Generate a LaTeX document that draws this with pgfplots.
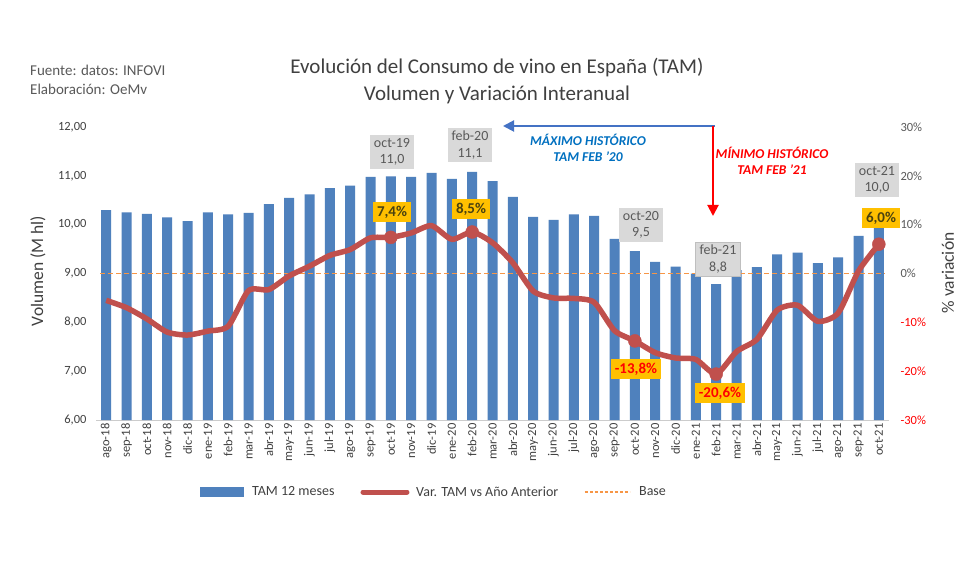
\documentclass[border=0pt]{standalone}
\usepackage{pgfplots}
\usepackage{pgfplotstable}
\pgfplotsset{compat=1.18}
\usepackage{fontspec}
\setmainfont{Carlito}
\usetikzlibrary{arrows.meta}
\definecolor{barblue}{HTML}{4F81BD}
\definecolor{linered}{HTML}{C0504D}
\definecolor{baseorange}{HTML}{F79646}
\definecolor{txtgray}{HTML}{595959}
\definecolor{titlegray}{HTML}{404040}
\definecolor{boxgray}{HTML}{D9D9D9}
\definecolor{boxyellow}{HTML}{FFC000}
\definecolor{olivetxt}{HTML}{4A4210}
\definecolor{bluetxt}{HTML}{0070C0}
\definecolor{arrowblue}{HTML}{4472C4}
\definecolor{pure red}{HTML}{FF0000}

\pgfplotstableread{
x vol var
0 10.30 -5.5
1 10.25 -7.0
2 10.22 -9.3
3 10.15 -12.0
4 10.07 -12.6
5 10.25 -11.8
6 10.21 -10.8
7 10.24 -3.5
8 10.42 -3.3
9 10.55 -0.5
10 10.62 1.5
11 10.75 3.7
12 10.80 4.9
13 10.98 7.3
14 10.99 7.4
15 10.98 8.3
16 11.06 9.8
17 10.94 7.0
18 11.08 8.5
19 10.89 6.3
20 10.57 2.2
21 10.16 -3.6
22 10.10 -5.0
23 10.21 -5.1
24 10.18 -5.9
25 9.71 -11.7
26 9.46 -13.8
27 9.24 -16.2
28 9.14 -17.3
29 9.00 -17.6
30 8.78 -20.6
31 9.07 -16.0
32 9.13 -13.5
33 9.39 -7.5
34 9.43 -6.5
35 9.21 -9.8
36 9.33 -8.1
37 9.77 0.5
38 9.98 6.0
}\datatable

\pgfplotstableread{
x var
14 7.4
18 8.5
26 -13.8
30 -20.6
38 6.0
}\marktable

\begin{document}
\begin{tikzpicture}
\path[use as bounding box, fill=white] (0pt,0pt) rectangle (980pt,560pt);

\begin{axis}[
  at={(96pt,140pt)}, anchor=south west,
  scale only axis, width=793pt, height=293pt,
  xmin=-0.5, xmax=38.5, ymin=6, ymax=12,
  axis x line*=bottom, axis y line*=left,
  x axis line style={draw=black!20, line width=0.8pt},
  y axis line style={draw=none},
  major tick length=0pt,
  xtick={0,...,38},
  xticklabels={ago-18,sep-18,oct-18,nov-18,dic-18,ene-19,feb-19,mar-19,abr-19,may-19,jun-19,jul-19,ago-19,sep-19,oct-19,nov-19,dic-19,ene-20,feb-20,mar-20,abr-20,may-20,jun-20,jul-20,ago-20,sep-20,oct-20,nov-20,dic-20,ene-21,feb-21,mar-21,abr-21,may-21,jun-21,jul-21,ago-21,sep-21,oct-21},
  xticklabel style={rotate=90, anchor=east, font=\fontsize{12.5}{14}\selectfont, text=titlegray},
  ytick={6,7,8,9,10,11,12},
  yticklabels={{6,00},{7,00},{8,00},{9,00},{10,00},{11,00},{12,00}},
  yticklabel style={font=\fontsize{12.5}{14}\selectfont, text=titlegray, xshift=-6pt},
]
\addplot[ybar, bar width=10pt, fill=barblue, draw=none, forget plot] table[x=x, y=vol] {\datatable};
\end{axis}

\begin{axis}[
  at={(96pt,140pt)}, anchor=south west,
  scale only axis, width=793pt, height=293pt,
  xmin=-0.5, xmax=38.5, ymin=-30, ymax=30,
  hide x axis,
  axis y line*=right,
  y axis line style={draw=none},
  major tick length=0pt,
  ytick={-30,-20,-10,0,10,20,30},
  yticklabels={\textcolor{pure red}{-30\%},\textcolor{pure red}{-20\%},\textcolor{pure red}{-10\%},0\%,10\%,20\%,30\%},
  yticklabel style={font=\fontsize{12.5}{14}\selectfont, text=txtgray, anchor=west, xshift=8pt},
  legend style={at={(0.426,-0.246)}, anchor=center, legend columns=3, draw=none, fill=none,
    font=\fontsize{14}{16}\selectfont, text=titlegray,
    /tikz/every even column/.append style={column sep=24pt}},
]
\addlegendimage{legend image code/.code={\fill[barblue] (0pt,-4.5pt) rectangle (43pt,4.5pt); \path (50pt,0pt);}}
\addlegendentry{TAM 12 meses}
\addlegendimage{legend image code/.code={\draw[linered, line width=5pt, line cap=round] (2pt,0pt) -- (46pt,0pt); \path (0pt,0pt) (53pt,0pt);}}
\addlegendentry{Var. TAM vs Año Anterior}
\addlegendimage{legend image code/.code={\draw[baseorange, line width=1.2pt, dash pattern=on 3pt off 2pt] (0pt,0pt) -- (45pt,0pt); \path (52pt,0pt);}}
\addlegendentry{Base}
\addplot[baseorange, line width=1.6pt, dash pattern=on 5pt off 3pt, forget plot] coordinates {(-0.3,0) (38.3,0)};
\addplot[linered, line width=5.5pt, smooth, tension=0.4, line join=round, forget plot] table[x=x, y=var] {\datatable};
\addplot[only marks, mark=*, mark size=6.5pt, color=linered, forget plot] table[x=x, y=var] {\marktable};
\end{axis}

% titles
\node[font=\fontsize{21}{23}\selectfont, text=titlegray] at (497pt,492pt) {Evolución del Consumo de vino en España (TAM)};
\node[font=\fontsize{21}{23}\selectfont, text=titlegray] at (497pt,465pt) {Volumen y Variación Interanual};
\node[font=\fontsize{15}{17}\selectfont, text=txtgray, anchor=west, inner sep=0pt] at (30pt,490pt) {Fuente: datos: INFOVI};
\node[font=\fontsize{15}{17}\selectfont, text=txtgray, anchor=west, inner sep=0pt] at (30pt,471pt) {Elaboración: OeMv};

% axis labels
\node[rotate=90, font=\fontsize{17.5}{19}\selectfont, text=titlegray] at (38pt,289pt) {Volumen (M hl)};
\node[rotate=90, font=\fontsize{17.5}{19}\selectfont, text=titlegray] at (948pt,287pt) {\% variación};

% gray value boxes
\tikzset{gbox/.style={fill=boxgray, align=center, font=\fontsize{14}{16.5}\selectfont, text=txtgray, inner xsep=4pt, inner ysep=3pt},
         ybox/.style={fill=boxyellow, font=\bfseries\fontsize{15}{17}\selectfont, inner xsep=4pt, inner ysep=4pt}}
\node[gbox] at (392pt,408pt) {oct-19\\11,0};
\node[gbox] at (470pt,415pt) {feb-20\\11,1};
\node[gbox] at (641pt,335pt) {oct-20\\9,5};
\node[gbox, draw=black!25, line width=0.6pt] at (718pt,301pt) {feb-21\\8,8};
\node[gbox] at (877pt,380pt) {oct-21\\10,0};

% yellow boxes
\node[ybox, text=olivetxt] at (392pt,348pt) {7,4\%};
\node[ybox, text=olivetxt] at (471pt,351pt) {8,5\%};
\node[ybox, text=pure red] at (636pt,191pt) {-13,8\%};
\node[ybox, text=pure red] at (720pt,167pt) {-20,6\%};
\node[ybox, text=olivetxt] at (881pt,342pt) {6,0\%};

% arrows
\draw[arrowblue, line width=2pt, -{Triangle[length=11pt,width=11pt]}] (715pt,434pt) -- (503pt,434pt);
\draw[pure red, line width=2pt, -{Triangle[length=11pt,width=11pt]}] (713pt,434pt) -- (713pt,344pt);
\node[font=\bfseries\itshape\fontsize{13.5}{16}\selectfont, text=bluetxt, align=center] at (588pt,412pt) {MÁXIMO HISTÓRICO\\TAM FEB ’20};
\node[font=\bfseries\itshape\fontsize{13.5}{16}\selectfont, text=pure red, align=center] at (772pt,399pt) {MÍNIMO HISTÓRICO\\TAM FEB ’21};
\end{tikzpicture}
\end{document}
